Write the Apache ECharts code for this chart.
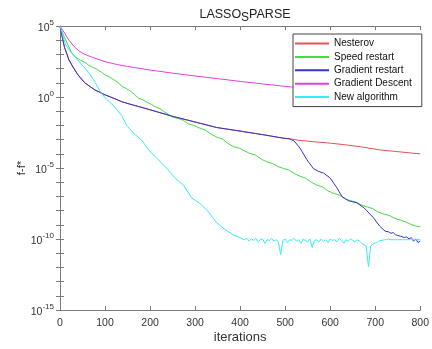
<!DOCTYPE html>
<html>
<head>
<meta charset="utf-8">
<script src="https://cdn.jsdelivr.net/npm/echarts@6/dist/echarts.min.js"></script>
<style>
    html, body {margin: 0; padding: 0; background: #fff;}
    #chart {width: 432px; height: 349px;}
</style>
</head>
<body>
<div id="chart"></div>
<script>
// values as log10(f-f*)
const seriesNames = ['Nesterov', 'Speed restart', 'Gradient restart', 'Gradient Descent', 'New algorithm'];

const nesterovIt = [0, 5, 10, 20, 30, 40, 55, 67, 78, 100, 120, 137, 155, 178, 211, 252, 290, 311, 348, 400, 450, 496, 511, 530, 563, 600, 637, 670, 711, 750, 800];
const nesterovLog = [5, 4.2, 3.5, 2.6, 2.05, 1.55, 1.0, 0.73, 0.49, 0.15, -0.1, -0.33, -0.5, -0.7, -1.0, -1.38, -1.68, -1.85, -2.15, -2.4, -2.65, -2.9, -2.94, -3.05, -3.15, -3.25, -3.38, -3.52, -3.73, -3.85, -4.01];

const speedIt = [0, 5, 11, 18, 26, 35, 45, 55, 63, 72, 82, 92, 100, 110, 120, 128, 137, 147, 157, 165, 174, 184, 195, 203, 211, 222, 232, 240, 250, 262, 274, 285, 297, 311, 322, 335, 348, 360, 372, 385, 398, 410, 422, 435, 447, 459, 472, 484, 496, 509, 521, 533, 546, 558, 570, 583, 595, 607, 620, 632, 645, 657, 669, 681, 694, 706, 720, 732, 744, 756, 768, 780, 790, 800];
const speedLog = [5, 4.55, 4.13, 3.65, 3.1, 2.8, 2.6, 2.45, 2.25, 2.1, 1.95, 1.75, 1.55, 1.4, 1.2, 1.05, 0.75, 0.6, 0.4, 0.2, -0.08, -0.2, -0.4, -0.52, -0.68, -0.82, -1.05, -1.2, -1.42, -1.5, -1.65, -1.9, -2.0, -2.2, -2.32, -2.6, -2.82, -2.95, -3.25, -3.5, -3.6, -3.8, -3.98, -4.1, -4.38, -4.56, -4.68, -4.9, -5.03, -5.15, -5.4, -5.58, -5.72, -6.0, -6.2, -6.33, -6.6, -6.78, -6.9, -7.15, -7.3, -7.4, -7.6, -7.73, -7.85, -8.1, -8.25, -8.35, -8.55, -8.67, -8.8, -8.98, -9.08, -9.15];

const gradIt = [0, 5, 10, 20, 30, 40, 55, 67, 78, 100, 120, 137, 155, 178, 211, 252, 290, 311, 348, 400, 450, 496, 511, 520, 533, 548, 563, 575, 585, 600, 615, 626, 640, 659, 675, 696, 710, 722, 730, 735, 740, 745, 750, 756, 760, 765, 770, 775, 780, 785, 790, 795, 800];
const gradLog = [5, 4.2, 3.5, 2.6, 2.05, 1.55, 1.0, 0.73, 0.49, 0.15, -0.1, -0.33, -0.5, -0.7, -1.0, -1.38, -1.68, -1.85, -2.15, -2.4, -2.65, -2.9, -2.96, -3.1, -3.6, -4.4, -5.05, -5.25, -5.35, -5.7, -6.4, -7.0, -7.3, -7.45, -7.8, -8.5, -9.1, -9.45, -9.5, -9.6, -9.55, -9.7, -9.75, -9.8, -9.75, -9.9, -9.85, -10.0, -9.9, -10.15, -10.0, -10.25, -10.15];

const descentIt = [0, 5, 10, 20, 30, 40, 50, 67, 100, 125, 150, 200, 250, 300, 350, 400, 450, 500, 550, 600, 650, 700, 750, 800];
const descentLog = [5, 4.75, 4.5, 4.0, 3.6, 3.3, 3.08, 2.85, 2.49, 2.3, 2.15, 1.9, 1.68, 1.48, 1.29, 1.1, 0.92, 0.75, 0.6, 0.45, 0.3, 0.15, 0.0, -0.14];

const newIt = [0, 5, 11, 20, 33, 45, 63, 75, 88, 100, 110, 120, 137, 148, 165, 181, 200, 215, 237, 255, 274, 293, 311, 326, 348, 365, 385, 400,
    405, 410, 415, 420, 425, 430, 435, 440, 445, 450, 455, 460, 465, 470, 475, 480, 485, 490, 495, 500,
    505, 510, 515, 520, 525, 530, 535, 540, 545, 550, 555, 560, 565, 570, 575, 580, 585, 590, 595, 600,
    605, 610, 615, 620, 625, 630, 635, 640, 645, 650, 655, 660, 665, 670, 675, 680, 685, 690, 695, 700,
    705, 710, 715, 720, 725, 730, 735, 740, 745, 750, 755, 760, 765, 770, 775, 780, 785, 790, 795, 800];
const newLog = [5, 4.5, 3.78, 3.3, 2.84, 2.4, 1.75, 1.2, 0.45, -0.05, -0.35, -0.65, -1.3, -2.0, -2.6, -3.03, -3.85, -4.3, -5.02, -5.7, -6.2, -7.13, -7.5, -7.96, -8.85, -9.3, -9.72, -9.9,
    -10.0, -10.05, -9.95, -10.15, -10.0, -10.1, -9.95, -10.2, -10.05, -10.0, -10.3, -10.05, -10.1, -9.95, -10.15, -10.05, -10.2, -11.1, -10.1, -10.0,
    -10.25, -10.05, -10.1, -9.95, -10.15, -10.05, -10.3, -10.0, -10.1, -10.2, -10.0, -10.6, -10.1, -10.05, -10.2, -10.0, -10.15, -10.05, -10.25, -10.0,
    -10.1, -10.05, -10.2, -9.95, -10.1, -10.3, -10.05, -10.15, -10.0, -10.1, -10.2, -10.05, -10.15, -10.3, -10.4, -10.5, -11.95, -10.5, -10.35, -10.28,
    -10.2, -10.1, -10.1, -10.05, -10.05, -10.0, -10.05, -10.05, -10.05, -10.05, -10.05, -10.05, -10.05, -10.05, -10.05, -10.0, -10.05, -10.05, -10.05, -10.05];

const seriesColors = ['#e05555', '#44dd44', '#3535cc', '#e040e0', '#33eef2'];
const xTicks = [0, 800, 100];  // min, max, step

const toPairs = (its, logs) => its.map((it, i) => [it, Math.pow(10, logs[i])]);
const seriesData = [
    toPairs(nesterovIt, nesterovLog),
    toPairs(speedIt, speedLog),
    toPairs(gradIt, gradLog),
    toPairs(descentIt, descentLog),
    toPairs(newIt, newLog)
];

const chart = echarts.init(document.getElementById('chart'));

const axisGray = '#7a7a7a';
const labelColor = '#333';

// 只在 10^5 的倍数处写标签
const expLabel = value => {
    const e = Math.round(Math.log10(value));
    if (e % 5 !== 0) return '';
    return '{b|10}{s|' + e + '}';
};

const option = {
    animation: false,
    backgroundColor: '#fff',
    title: {
        text: 'LASSO{s|S}PARSE',
        left: 240,
        textAlign: 'center',
        top: 0,
        textStyle: {
            fontFamily: 'Liberation Sans',
            fontSize: 12.5,
            fontWeight: 'normal',
            color: '#222',
            rich: {
                s: {fontFamily: 'Liberation Sans', fontSize: 12, color: '#222', padding: [7, 0, 0, 0]}
            }
        }
    },
    grid: {left: 60, right: 11, top: 26, bottom: 38, containLabel: false},
    legend: {
        data: seriesNames,
        orient: 'vertical',
        left: 293,
        top: 34,
        padding: [3, 10, 3, 2],
        itemWidth: 34,
        itemHeight: 2,
        itemGap: 0.4,
        backgroundColor: '#fff',
        borderColor: '#444',
        borderWidth: 1,
        icon: 'rect',
        textStyle: {fontFamily: 'Liberation Sans', fontSize: 10, color: '#111', lineHeight: 13}
    },
    xAxis: [{
        type: 'value',
        min: xTicks[0],
        max: xTicks[1],
        interval: xTicks[2],
        name: 'iterations',
        nameLocation: 'middle',
        nameGap: 21,
        nameMoveOverlap: false,
        nameTextStyle: {fontFamily: 'Liberation Sans', fontSize: 13, color: labelColor},
        axisLine: {lineStyle: {color: axisGray, width: 1}},
        axisTick: {inside: true, length: 4, lineStyle: {color: axisGray}},
        axisLabel: {fontFamily: 'Liberation Sans', fontSize: 10.5, color: labelColor, margin: 8},
        splitLine: {show: false}
    }, {
        type: 'value',
        position: 'top',
        min: xTicks[0],
        max: xTicks[1],
        interval: xTicks[2],
        axisLine: {lineStyle: {color: axisGray, width: 1}},
        axisTick: {inside: true, length: 4, lineStyle: {color: axisGray}},
        axisLabel: {show: false},
        splitLine: {show: false}
    }],
    yAxis: [{
        type: 'log',
        logBase: 10,
        min: 1e-15,
        max: 1e5,
        interval: 1,
        name: 'f-f*',
        nameLocation: 'middle',
        nameGap: 32,
        nameMoveOverlap: false,
        nameTextStyle: {fontFamily: 'Liberation Sans', fontSize: 11.5, color: labelColor},
        axisLine: {show: true, lineStyle: {color: axisGray, width: 1}},
        axisTick: {show: true, inside: true, length: 4, lineStyle: {color: axisGray}},
        axisLabel: {
            fontFamily: 'Liberation Sans',
            fontSize: 10.5,
            color: labelColor,
            margin: 6,
            formatter: expLabel,
            rich: {
                b: {fontFamily: 'Liberation Sans', fontSize: 10.5, color: labelColor, padding: [4, 0, 0, 0]},
                s: {fontFamily: 'Liberation Sans', fontSize: 8, color: labelColor, padding: [0, 0, 6, 0]}
            }
        },
        splitLine: {show: false}
    }, {
        type: 'log',
        logBase: 10,
        position: 'right',
        min: 1e-15,
        max: 1e5,
        interval: 1,
        axisLine: {show: true, lineStyle: {color: axisGray, width: 1}},
        axisTick: {show: true, inside: true, length: 4, lineStyle: {color: axisGray}},
        axisLabel: {show: false},
        splitLine: {show: false}
    }],
    series: seriesNames.map((name, i) => ({
        name: name,
        type: 'line',
        xAxisIndex: 0,
        yAxisIndex: 0,
        data: seriesData[i],
        symbol: 'none',
        showSymbol: false,
        lineStyle: {color: seriesColors[i], width: 1},
        itemStyle: {color: seriesColors[i]},
        emphasis: {disabled: true}
    }))
};

chart.setOption(option);
</script>
</body>
</html>
